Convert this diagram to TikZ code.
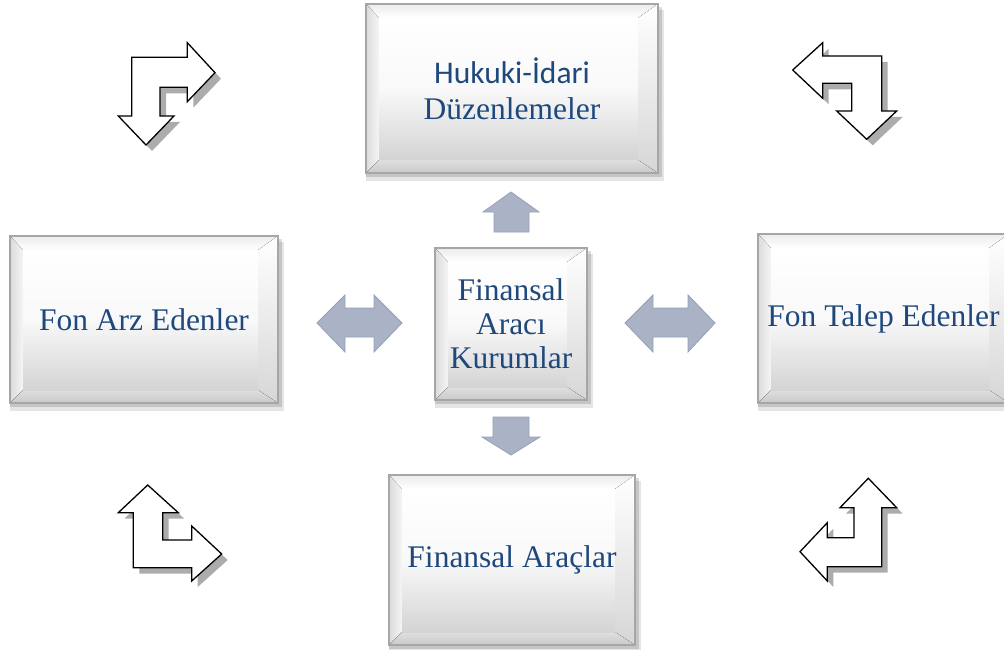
\documentclass[tikz,border=0pt]{standalone}
\usepackage{fontspec}
\setmainfont{Liberation Serif}
\setsansfont{Carlito}
\usetikzlibrary{calc,backgrounds}
\definecolor{txtblue}{RGB}{31,73,125}
\definecolor{arrfill}{RGB}{170,179,198}
\definecolor{arrline}{RGB}{150,160,181}
\tikzset{
  bevelbox/.style={rectangle, draw=gray!70, line width=1.1pt, inner sep=0pt,
    align=center, text=txtblue, font=\fontsize{31.5}{36}\selectfont,
    path picture={
      \coordinate (pNW) at (path picture bounding box.north west);
      \coordinate (pNE) at (path picture bounding box.north east);
      \coordinate (pSW) at (path picture bounding box.south west);
      \coordinate (pSE) at (path picture bounding box.south east);
      \coordinate (iNW) at ($(pNW)+(13pt,-14pt)$);
      \coordinate (iNE) at ($(pNE)+(-20pt,-14pt)$);
      \coordinate (iSW) at ($(pSW)+(13pt,13pt)$);
      \coordinate (iSE) at ($(pSE)+(-20pt,13pt)$);
      \fill[top color=gray!15, bottom color=white] (pNW) -- (pNE) -- (iNE) -- (iNW) -- cycle;
      \fill[left color=gray!28, right color=gray!8] (pNW) -- (iNW) -- (iSW) -- (pSW) -- cycle;
      \fill[top color=white, bottom color=gray!32] (pNE) -- (iNE) -- (iSE) -- (pSE) -- cycle;
      \fill[top color=gray!25, bottom color=gray!42] (pSW) -- (iSW) -- (iSE) -- (pSE) -- cycle;
      \fill[top color=white, bottom color=gray!34, middle color=gray!5] (iNW) rectangle (iSE);
    }},
  grayarrow/.style={fill=arrfill, draw=arrline, line width=0.8pt, line join=miter},
  outarrow/.style={fill=white, draw=black, line width=1.3pt, line join=miter},
  outshadow/.style={fill=gray!65}
}
\newcommand{\bentarrow}[1]{%
  \fill[outshadow, shift={(6pt,-6pt)}] #1;
  \draw[outarrow] #1;
}
\begin{document}
\begin{tikzpicture}[x=1pt, y=-1pt]
\useasboundingbox (0,0) rectangle (1004,650);
\clip (0,0) rectangle (1004,650);

% boxes
\node[bevelbox, minimum width=292pt, minimum height=169pt] (hukuk) at (512,88.5)
  {{\sffamily Hukuki-İdari}\\Düzenlemeler};
\node[bevelbox, minimum width=152pt, minimum height=152pt, font=\fontsize{31.5}{34}\selectfont] (araci) at (511,324)
  {Finansal\\Aracı\\Kurumlar};
\node[bevelbox, minimum width=268pt, minimum height=167pt] (arz) at (144,319.5)
  {Fon Arz Edenler};
\node[bevelbox, minimum width=251pt, minimum height=169pt] (talep) at (883.5,318.5)
  {Fon Talep Edenler};
\node[bevelbox, minimum width=246pt, minimum height=170pt] (araclar) at (512,560)
  {Finansal Araçlar};

\begin{scope}[on background layer]
  \foreach \n in {hukuk,araci,arz,talep,araclar}{
    \fill[black, opacity=0.10] ($(\n.north west)+(1pt,-7pt)$) rectangle ($(\n.south east)+(5pt,-7pt)$);
    \fill[black, opacity=0.14] ($(\n.north west)+(1pt,-3.5pt)$) rectangle ($(\n.south east)+(3pt,-3.5pt)$);
  }
\end{scope}

% gray block arrows
\draw[grayarrow] (511,192) -- (539,212) -- (529,212) -- (529,232) -- (494,232) -- (494,212) -- (483,212) -- cycle;
\draw[grayarrow] (493,417) -- (529,417) -- (529,437) -- (540,437) -- (511,455) -- (482,437) -- (493,437) -- cycle;
\draw[grayarrow] (317,323) -- (345,295) -- (345,308) -- (374,308) -- (374,295) -- (402,323) -- (374,352) -- (374,337) -- (345,337) -- (345,352) -- cycle;
\draw[grayarrow] (625,323) -- (653,295) -- (653,308) -- (688,308) -- (688,295) -- (715,323) -- (688,352) -- (688,337) -- (653,337) -- (653,352) -- cycle;

% bent outline arrows
\bentarrow{(131.7,57.3) -- (187.3,57.3) -- (187.3,42.7) -- (215,72.7) -- (187.3,101.7) -- (187.3,87.3) -- (160,87.3) -- (160,116) -- (174,116) -- (146,145) -- (118.3,116) -- (131.7,116) -- cycle}
\bentarrow{(792.7,70) -- (822.7,42.7) -- (822.7,56) -- (881.7,56) -- (881.7,111) -- (896.7,111) -- (866.7,139.3) -- (836.7,111) -- (851.7,111) -- (851.7,83.3) -- (822.7,83.3) -- (822.7,98.3) -- cycle}
\bentarrow{(147.7,485) -- (178.3,512.7) -- (162.7,512.7) -- (162.7,540) -- (191.7,540) -- (191.7,526) -- (221.7,554) -- (191.7,581) -- (191.7,567.7) -- (133.3,567.7) -- (133.3,512.7) -- (118.3,512.7) -- cycle}
\bentarrow{(868.3,478.3) -- (896.7,507.7) -- (881.7,507.7) -- (881.7,566.7) -- (827.3,566.7) -- (827.3,581) -- (800,551.7) -- (827.3,522.7) -- (827.3,537.7) -- (854,537.7) -- (854,507.7) -- (840,507.7) -- cycle}
\end{tikzpicture}
\end{document}
